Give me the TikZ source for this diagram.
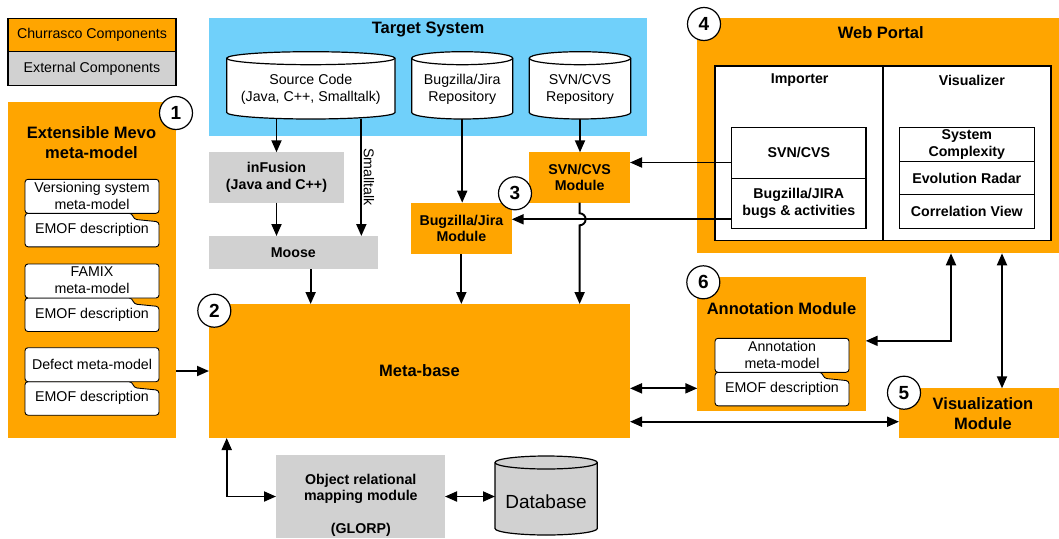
\documentclass[tikz,border=0pt]{standalone}
\usepackage{fontspec}
\setmainfont{Liberation Sans}
\usetikzlibrary{arrows.meta,calc}

\definecolor{churr}{RGB}{255,165,0}
\definecolor{extgrey}{RGB}{209,209,209}
\definecolor{tsblue}{RGB}{112,208,250}

\tikzset{
  every node/.style={inner sep=0pt, outer sep=0pt},
  reg/.style={font=\fontsize{14.2}{17}\selectfont, align=center},
  bld/.style={font=\fontsize{14.2}{16.7}\selectfont\bfseries, align=center},
  ttl/.style={font=\fontsize{16.5}{20}\selectfont\bfseries, align=center},
  outl/.style={draw=black, line width=1.2pt},
  stackline/.style={draw=black, line width=0.9pt, fill=white},
  tip/.tip={Triangle[length=12pt,width=10pt]},
  arr/.style={line width=1.9pt, -tip},
  darr/.style={line width=1.9pt, tip-tip},
  numcirc/.style={circle, draw=black, line width=1.2pt, fill=white,
    minimum size=33pt, font=\fontsize{19}{19}\selectfont\bfseries},
}

% rectangular block: name, x, y (top left), width, height, style, text
\newcommand\areabox[7]{%
  \node[#6, anchor=north west, minimum width=#4, minimum height=#5] (#1) at (#2,#3) {#7};}

% cylinder: name, x, y (top left), width, height, fill
\newcommand\cylshape[6]{%
  \node[anchor=north west, minimum width=#4, minimum height=#5] (#1) at (#2,#3) {};
  \filldraw[fill=#6, draw=black, line width=1.2pt]
    (#2,#3+6.5) -- (#2,#3+#5-6.5)
    arc[start angle=180, end angle=0, x radius=#4/2, y radius=6.5]
    -- (#2+#4,#3+6.5)
    arc[start angle=0, end angle=-180, x radius=#4/2, y radius=6.5] -- cycle;
  \draw[line width=1.2pt] (#2,#3+6.5)
    arc[start angle=180, end angle=0, x radius=#4/2, y radius=6.5];}

% meta-model with its EMOF note: name, x, y (top left), upper text, lower text
\newcommand\metastack[5]{%
  \draw[stackline, rounded corners=3pt]
    (#2+107,#3+34) -- (#2+109,#3+40) -- (#2+134,#3+42.5) -- (#2+134,#3+67.5)
    -- (#2,#3+67.5) -- (#2,#3+34) -- cycle;
  \draw[stackline, rounded corners=3pt] (#2,#3) rectangle (#2+134,#3+34);
  \node[reg] (#1m) at (#2+67,#3+16.5) {#4};
  \node[reg] (#1e) at (#2+67,#3+50.5) {#5};}

\begin{document}
\begin{tikzpicture}[x=1pt, y=-1pt]
\useasboundingbox (0,0) rectangle (1059,538);

% legend
\areabox{legC}{8}{18.3}{168}{33.4}{fill=churr, reg}{Churrasco Components}
\areabox{legE}{8}{51.7}{168}{34}{fill=extgrey, reg}{External Components}
\draw[line width=1.1pt] (legC.north west) rectangle (legE.south east);
\draw[line width=1.1pt] (legC.south west) -- (legC.south east);

% extensible meta-model
\areabox{mevo}{8}{102}{168}{336}{fill=churr}{}
\node[ttl] (mevot) at (91.5,143) {Extensible Mevo\\meta-model};
\metastack{vers}{25}{179.3}{Versioning system\\meta-model}{EMOF description}
\metastack{famix}{25}{264}{FAMIX\\meta-model}{EMOF description}
\metastack{defect}{25}{347.7}{Defect meta-model}{EMOF description}

% target system
\areabox{ts}{209}{18.3}{438}{117.4}{fill=tsblue}{}
\node[ttl] (tst) at (428,29.5) {Target System};
\cylshape{src}{226.7}{51.7}{168.3}{67.3}{white}
\cylshape{bugcyl}{411.7}{51.7}{101}{67.3}{white}
\cylshape{svncyl}{529.3}{51.7}{101.4}{67.3}{white}
\node[reg] (srct) at (310.8,89) {Source Code\\(Java, C++, Smalltalk)};
\node[reg] (bugt) at (462.2,89) {Bugzilla/Jira\\Repository};
\node[reg] (svnt) at (580,89) {SVN/CVS\\Repository};

% external tools and importers
\areabox{infusion}{209}{152.3}{135}{50.4}{fill=extgrey, bld}{inFusion\\(Java and C++)}
\areabox{moose}{209}{236}{168.7}{33.3}{fill=extgrey, bld}{Moose}
\areabox{bugmod}{411}{202.7}{100.7}{51.3}{fill=churr, bld}{Bugzilla/Jira\\Module}
\areabox{svnmod}{529.3}{152.3}{100.7}{50.4}{fill=churr, bld}{SVN/CVS\\Module}

% meta-base
\areabox{mb}{209}{304}{421}{134}{fill=churr, ttl}{Meta-base}

% web portal
\areabox{wp}{697}{18.3}{362}{235}{fill=churr}{}
\node[ttl] (wpt) at (880.8,33) {Web Portal};
\areabox{impa}{715}{66}{168}{174.7}{fill=white, outl}{}
\areabox{visa}{883}{66}{168}{174.7}{fill=white, outl}{}
\node[bld] (impt) at (799.7,80.5) {Importer};
\node[bld] (vist) at (971.8,80.5) {Visualizer};
\areabox{impsvn}{731.7}{127.3}{134.3}{51}{fill=white, outl, bld}{SVN/CVS}
\areabox{impbug}{731.7}{178.3}{134.3}{50}{fill=white, outl, bld}{Bugzilla/JIRA\\bugs \& activities}
\areabox{vsc}{899.3}{127.3}{135}{34}{fill=white, outl, bld}{System\\Complexity}
\areabox{ver}{899.3}{161.3}{135}{33.4}{fill=white, outl, bld}{Evolution Radar}
\areabox{vcv}{899.3}{194.7}{135}{33.6}{fill=white, outl, bld}{Correlation View}

% annotation module
\areabox{annot}{697.3}{277.3}{168.4}{133.7}{fill=churr}{}
\node[ttl] (annott) at (781.5,308.5) {Annotation Module};
\metastack{annmm}{715}{338.3}{Annotation\\meta-model}{EMOF description}

% visualization module
\areabox{vismod}{899}{388.3}{160}{50}{fill=churr}{}
\node[ttl] (vismodt) at (983,414) {Visualization\\Module};

% persistence
\areabox{orm}{276}{455}{169}{83}{fill=extgrey}{}
\node[bld] (ormt) at (360.8,489) {Object relational\\mapping module};
\node[bld] (ormg) at (360.8,530) {(GLORP)};
\cylshape{db}{495}{456}{102.3}{79}{extgrey}
\node[font=\fontsize{19}{19}\selectfont] (dbt) at (546,502) {Database};

% connectors
\draw[arr] (infusion.north |- src.south) -- (infusion.north);
\draw[arr] (infusion.south) -- (infusion.south |- moose.north);
\coordinate (stx) at ($(src.south east)!0.2!(src.south west)$);
\draw[arr] (stx) -- (stx |- moose.north);
\node[reg, rotate=-90, anchor=south] (stl) at ($(stx)+(2.5,58)$) {Smalltalk};
\draw[arr] (bugcyl.south) -- (bugcyl.south |- bugmod.north);
\draw[arr] (svncyl.south) -- (svncyl.south |- svnmod.north);

\coordinate (isv) at ($(impsvn.west)+(0,9.7)$);
\coordinate (ibg) at ($(impbug.west)+(0,16)$);
\draw[arr] (isv) -- (isv -| svnmod.east);
\draw[arr] (ibg) -- (ibg -| bugmod.east);

\coordinate (mo) at ($(moose.south)+(17.3,0)$);
\draw[arr] (mo) -- (mo |- mb.north);
\draw[arr] (bugmod.south) -- (bugmod.south |- mb.north);
\draw[arr] (svnmod.south) -- ($(svnmod.south |- ibg)+(0,-6)$)
  arc[start angle=-90, end angle=90, radius=6] -- (svnmod.south |- mb.north);

\draw[arr] (mb.west -| mevo.east) -- (mb.west);

\coordinate (wv1) at ($(wp.south)+(73,0)$);
\coordinate (wv2) at ($(wp.south)+(124,0)$);
\draw[darr] (wv1) |- ($(annot.east)+(0,-3.3)$);
\draw[darr] (wv2) -- (wv2 |- vismod.north);
\coordinate (ma) at ($(annot.west)+(0,44.2)$);
\draw[darr] (ma -| mb.east) -- (ma);
\coordinate (mv) at ($(vismod.west)+(0,8.4)$);
\draw[darr] (mv -| mb.east) -- (mv);

\coordinate (mo2) at ($(mb.south west)+(17.7,0)$);
\draw[darr] (mo2) |- (orm.west);
\draw[darr] (orm.east) -- (orm.east -| db.west);

% component numbers
\node[numcirc] (n1) at (176,113) {1};
\node[numcirc] (n2) at (214.3,310.7) {2};
\node[numcirc] (n3) at (515,193.3) {3};
\node[numcirc] (n4) at (704,24) {4};
\node[numcirc] (n5) at (904,392.7) {5};
\node[numcirc] (n6) at (703.3,282.3) {6};
\end{tikzpicture}
\end{document}
